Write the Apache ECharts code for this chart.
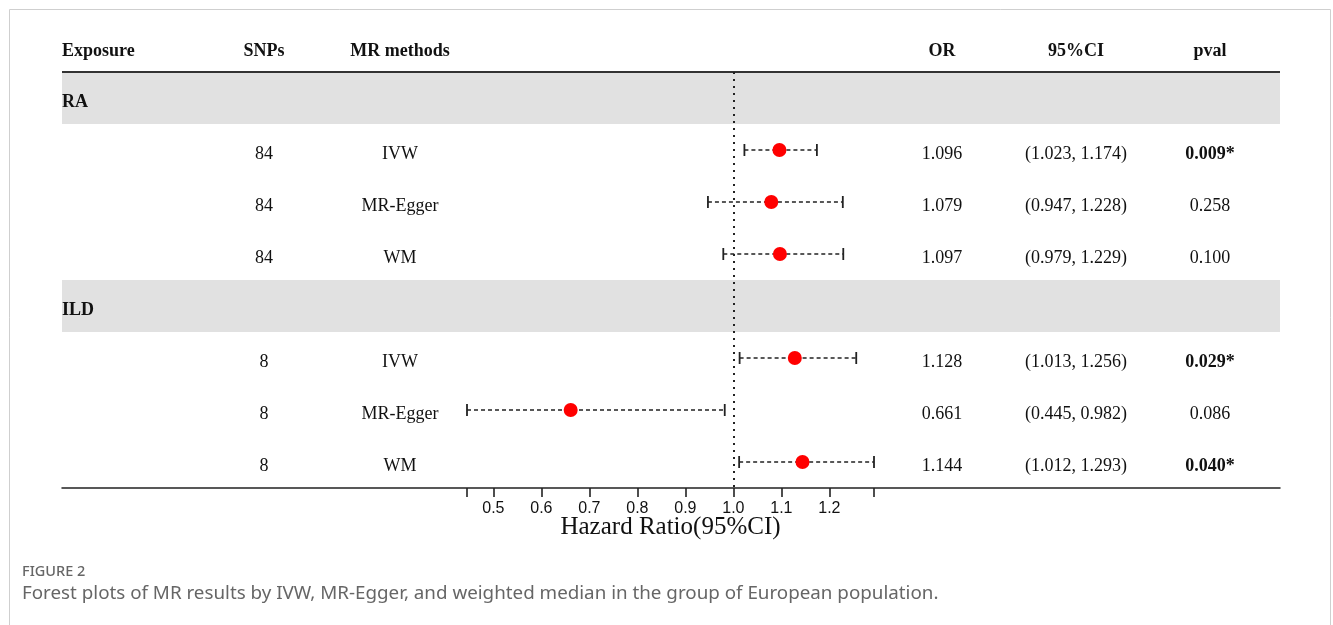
<!DOCTYPE html>
<html><head><meta charset="utf-8">
<script src="https://cdn.jsdelivr.net/npm/echarts@6/dist/echarts.min.js"></script>
<style>html,body{margin:0;padding:0;background:#fff;}#c{width:1333px;height:625px;}</style>
</head><body><div id="c"></div>
<script>
// ---------- data ----------
const headers = ['Exposure', 'SNPs', 'MR methods', 'OR', '95%CI', 'pval'];
const exposures = ['RA', '', '', '', 'ILD', '', '', ''];
const snps = ['', '84', '84', '84', '', '8', '8', '8'];
const methods = ['', 'IVW', 'MR-Egger', 'WM', '', 'IVW', 'MR-Egger', 'WM'];
const orValues = [null, 1.096, 1.079, 1.097, null, 1.128, 0.661, 1.144];
const ciLower = [null, 1.023, 0.947, 0.979, null, 1.013, 0.445, 1.012];
const ciUpper = [null, 1.174, 1.228, 1.229, null, 1.256, 0.982, 1.293];
const pvals = ['', '0.009*', '0.258', '0.100', '', '0.029*', '0.086', '0.040*'];
const significant = [false, true, false, false, false, true, false, true];
const tickLabels = [0.5, 0.6, 0.7, 0.8, 0.9, 1.0, 1.1, 1.2];
const refValue = 1.0;
const axisTitle = 'Hazard Ratio(95%CI)';
const figureLabel = 'FIGURE 2';
const figureCaption = 'Forest plots of MR results by IVW, MR-Egger, and weighted median in the group of European population.';

// ---------- derived ----------
const rowIds = exposures.map((_, i) => String(i));
const lows = ciLower.filter(v => v != null);
const ups = ciUpper.filter(v => v != null);
const axisMin = Math.min(...lows);
const axisMax = Math.max(...ups);

// ---------- layout ----------
const colPos = [0, 0.1658, 0.2775, 0.7225, 0.8325, 0.9425];
const colAlign = ['left', 'center', 'center', 'center', 'center', 'center'];
const SERIF = '"Liberation Serif", "Times New Roman", serif';
const TXT = '#111';

const tableRows = [['H', -1]].concat(rowIds.map((r, i) => [r, i]));

const chart = echarts.init(document.getElementById('c'), null, { renderer: 'canvas' });

chart.setOption({
  animation: false,
  backgroundColor: '#fff',
  grid: [
    { left: 62, right: 53, top: 20, bottom: 137 },
    { left: 467, right: 459, top: 72, bottom: 137 }
  ],
  xAxis: [
    {
      gridIndex: 0, type: 'value', min: 0, max: 1,
      axisLine: { show: true, lineStyle: { color: '#222', width: 1.5 } },
      axisTick: { show: false }, axisLabel: { show: false }, splitLine: { show: false }
    },
    {
      gridIndex: 1, type: 'value', min: axisMin, max: axisMax,
      axisLine: { show: false },
      axisTick: {
        show: true, inside: false, length: 9,
        customValues: [axisMin].concat(tickLabels, [axisMax]),
        lineStyle: { color: '#222', width: 1.6 }
      },
      axisLabel: {
        show: true, customValues: tickLabels, formatter: v => Number(v).toFixed(1),
        fontFamily: '"Liberation Sans", Arial, sans-serif', fontSize: 16, color: '#111', margin: 13
      },
      splitLine: { show: false },
      name: axisTitle, nameLocation: 'middle', nameGap: 27, nameMoveOverlap: false,
      nameTextStyle: { fontFamily: SERIF, fontSize: 25, color: TXT }
    }
  ],
  yAxis: [
    { gridIndex: 0, type: 'category', inverse: true, data: ['H'].concat(rowIds), show: false },
    { gridIndex: 1, type: 'category', inverse: true, data: rowIds, show: false }
  ],
  series: [
    {
      type: 'custom', xAxisIndex: 0, yAxisIndex: 0, silent: true, clip: false,
      data: tableRows.map((r, k) => [0, k, r[1]]),
      encode: { x: 0, y: 1 },
      renderItem: function (params, api) {
        const k = api.value(1);
        const idx = api.value(2);
        const c0 = api.coord([0, k]);
        const c1 = api.coord([1, k]);
        const h = api.size([0, 1])[1];
        const children = [];
        const ty = c0[1] + (idx < 0 ? 5 : 4.5);
        const mk = (col, text, bold) => ({
          type: 'text',
          style: {
            x: c0[0] + colPos[col] * (c1[0] - c0[0]), y: ty, text: text,
            align: colAlign[col], verticalAlign: 'middle',
            font: (bold ? 'bold ' : '') + '18px ' + SERIF, fill: TXT
          }
        });
        if (idx < 0) {
          headers.forEach((t, col) => children.push(mk(col, t, true)));
          children.push({
            type: 'line',
            shape: { x1: c0[0], y1: c0[1] + h / 2, x2: c1[0], y2: c0[1] + h / 2 },
            style: { stroke: '#333', lineWidth: 2 }
          });
        } else {
          if (exposures[idx]) {
            children.push({
              type: 'rect', z2: -1,
              shape: { x: c0[0], y: c0[1] - h / 2, width: c1[0] - c0[0], height: h },
              style: { fill: '#e1e1e1' }
            });
            children.push(mk(0, exposures[idx], true));
          }
          if (snps[idx]) children.push(mk(1, snps[idx], false));
          if (methods[idx]) children.push(mk(2, methods[idx], false));
          if (orValues[idx] != null) children.push(mk(3, orValues[idx].toFixed(3), false));
          if (ciLower[idx] != null) children.push(mk(4, '(' + ciLower[idx].toFixed(3) + ', ' + ciUpper[idx].toFixed(3) + ')', false));
          if (pvals[idx]) children.push(mk(5, pvals[idx], significant[idx]));
        }
        return { type: 'group', children: children };
      }
    },
    {
      type: 'custom', xAxisIndex: 1, yAxisIndex: 1, silent: true, clip: false,
      data: rowIds.map((r, i) => [ciLower[i], ciUpper[i], i]).filter(d => d[0] != null),
      encode: { x: [0, 1], y: 2 },
      renderItem: function (params, api) {
        const p1 = api.coord([api.value(0), api.value(2)]);
        const p2 = api.coord([api.value(1), api.value(2)]);
        const cap = 6;
        return {
          type: 'group',
          children: [
            { type: 'line', shape: { x1: p1[0], y1: p1[1], x2: p2[0], y2: p2[1] },
              style: { stroke: '#222', lineWidth: 1.3, lineDash: [4, 3] } },
            { type: 'line', shape: { x1: p1[0], y1: p1[1] - cap, x2: p1[0], y2: p1[1] + cap },
              style: { stroke: '#222', lineWidth: 1.8 } },
            { type: 'line', shape: { x1: p2[0], y1: p2[1] - cap, x2: p2[0], y2: p2[1] + cap },
              style: { stroke: '#222', lineWidth: 1.8 } }
          ]
        };
      }
    },
    {
      type: 'scatter', xAxisIndex: 1, yAxisIndex: 1, silent: true,
      symbol: 'circle', symbolSize: 14,
      itemStyle: { color: '#ff0000', opacity: 1 },
      data: rowIds.map((r, i) => [orValues[i], i]).filter(d => d[0] != null),
      z: 5,
      markLine: {
        silent: true, symbol: 'none', animation: false,
        label: { show: false },
        lineStyle: { color: '#222', width: 2, type: [2, 5] },
        data: [{ xAxis: refValue }]
      }
    }
  ],
  graphic: [
    { type: 'rect', silent: true, shape: { x: 9.5, y: 9.5, width: 1321, height: 630 },
      style: { fill: null, stroke: '#cfcfcf', lineWidth: 1 } },
    { type: 'text', silent: true, left: 22, top: 564,
      style: { text: figureLabel, font: '500 14.5px "Noto Sans", sans-serif', fill: '#666' } },
    { type: 'text', silent: true, left: 22, top: 584,
      style: { text: figureCaption, font: '18.8px "Noto Sans", sans-serif', fill: '#666' } }
  ]
});
</script></body></html>
